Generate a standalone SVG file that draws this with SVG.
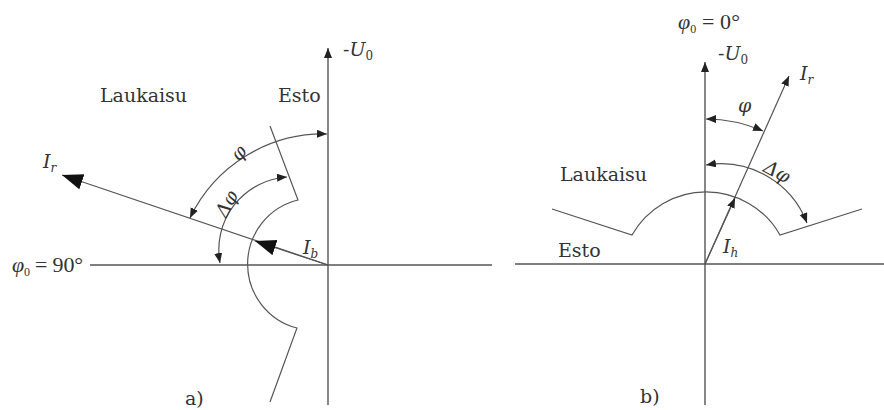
<svg xmlns="http://www.w3.org/2000/svg" width="884" height="410" viewBox="0 0 884 410">
<style>
.ln{stroke:#555;stroke-width:1.2;fill:none}
.ax{stroke:#555;stroke-width:1.4;fill:none}
.t{font-family:"DejaVu Serif","Liberation Serif",serif;font-size:19px;fill:#333}
.m{font-family:"DejaVu Serif","Liberation Serif",serif;font-size:19px;fill:#333;font-style:italic}
.eq{font-family:"Liberation Serif","DejaVu Serif",serif;font-size:22px;fill:#333}
.sub{font-size:12px;font-style:normal}
.subi{font-size:12px}
</style>
<defs>
<marker id="sa" markerUnits="userSpaceOnUse" markerWidth="12" markerHeight="10" refX="10" refY="4" orient="auto-start-reverse" viewBox="0 0 12 10"><path d="M0,0 L10,4 L0,8 Z" fill="#222"/></marker>
<marker id="ba" markerUnits="userSpaceOnUse" markerWidth="24" markerHeight="18" refX="21" refY="8" orient="auto-start-reverse" viewBox="0 0 24 18"><path d="M0,0 L21,8 L0,16 Z" fill="#111"/></marker>
</defs>
<g id="diagram-a">
<g id="a-axes">
<line class="ax" x1="328" y1="405" x2="328" y2="48" marker-end="url(#sa)"/>
<line class="ax" x1="90" y1="265" x2="492" y2="265"/>
</g>
<g id="a-boundary">
<path class="ln" d="M270,126 L298,200 A66,66 0 0 0 297,328 L270,402"/>
</g>
<g id="a-connectors">
<line class="ln" x1="328" y1="265" x2="62" y2="175" marker-end="url(#ba)"/>
<line class="ln" x1="328" y1="265" x2="255" y2="241" marker-end="url(#ba)"/>
<path class="ln" d="M190,218 A148,148 0 0 1 327,134" marker-start="url(#sa)" marker-end="url(#sa)"/>
<path class="ln" d="M287,177 A73,73 0 0 0 220,263" marker-start="url(#sa)" marker-end="url(#sa)"/>
</g>
<g id="a-labels">
<text class="t" x="343" y="56">-<tspan font-style="italic">U</tspan><tspan class="sub" dy="4">0</tspan></text>
<text class="t" x="100" y="102">Laukaisu</text>
<text class="t" x="278" y="102">Esto</text>
<text class="m" x="239" y="159" text-anchor="middle" transform="rotate(-50 239 153)">φ</text>
<text class="m" x="227" y="210" text-anchor="middle" transform="rotate(-62 227 204)">Δφ</text>
<text class="m" x="43" y="168">I<tspan class="subi" dy="4">r</tspan></text>
<text class="m" x="303" y="254">I<tspan class="subi" dy="4">b</tspan></text>
<text class="eq" x="12" y="272" textLength="71" lengthAdjust="spacing"><tspan font-style="italic">φ</tspan><tspan class="sub" dy="4">0</tspan><tspan dy="-4"> = 90°</tspan></text>
<text class="t" x="185" y="405">a)</text>
</g>
</g>
<g id="diagram-b">
<g id="b-axes">
<line class="ax" x1="705" y1="405" x2="705" y2="62" marker-end="url(#sa)"/>
<line class="ax" x1="515" y1="264" x2="884" y2="264"/>
</g>
<g id="b-boundary">
<path class="ln" d="M552,209 L632,235 A85,85 0 0 1 780,235 L862,209"/>
</g>
<g id="b-connectors">
<line class="ln" x1="705" y1="264" x2="789" y2="76" marker-end="url(#sa)"/>
<line class="ln" x1="705" y1="264" x2="735" y2="198" marker-end="url(#sa)"/>
<path class="ln" d="M706,119 A145,145 0 0 1 763,131" marker-start="url(#sa)" marker-end="url(#sa)"/>
<path class="ln" d="M706,165 A92,92 0 0 1 807,223" marker-start="url(#sa)" marker-end="url(#sa)"/>
</g>
<g id="b-labels">
<text class="eq" x="678" y="29" textLength="62" lengthAdjust="spacing"><tspan font-style="italic">φ</tspan><tspan class="sub" dy="4">0</tspan><tspan dy="-4"> = 0°</tspan></text>
<text class="t" x="718" y="60">-<tspan font-style="italic">U</tspan><tspan class="sub" dy="4">0</tspan></text>
<text class="m" x="800" y="80">I<tspan class="subi" dy="4">r</tspan></text>
<text class="m" x="738" y="112">φ</text>
<text class="m" x="777" y="178" text-anchor="middle" transform="rotate(28 777 172)">Δφ</text>
<text class="t" x="560" y="181">Laukaisu</text>
<text class="t" x="558" y="257">Esto</text>
<text class="m" x="723" y="253">I<tspan class="subi" dy="4">h</tspan></text>
<text class="t" x="640" y="403">b)</text>
</g>
</g>
</svg>
